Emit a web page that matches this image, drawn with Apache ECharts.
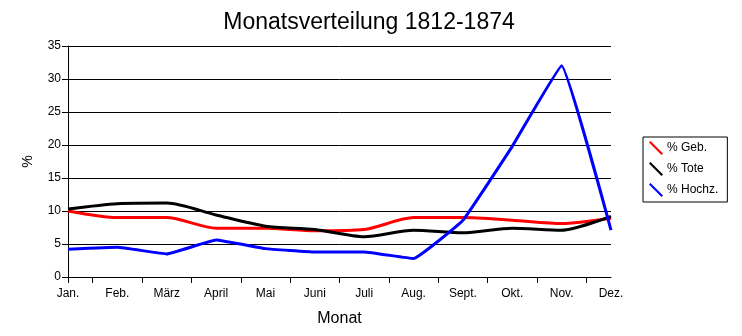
<!DOCTYPE html>
<html>
<head>
<meta charset="utf-8">
<script src="https://cdn.jsdelivr.net/npm/echarts@6/dist/echarts.min.js"></script>
<style>html,body{margin:0;padding:0;background:#fff}#c{width:742px;height:336px}</style>
</head>
<body>
<div id="c"></div>
<script>
var categories = ['Jan.', 'Feb.', 'März', 'April', 'Mai', 'Juni', 'Juli', 'Aug.', 'Sept.', 'Okt.', 'Nov.', 'Dez.'];
var geb   = [10.0, 9.0, 9.0, 7.4, 7.4, 7.0, 7.2, 9.0, 9.0, 8.6, 8.1, 8.9];
var tote  = [10.3, 11.1, 11.2, 9.4, 7.7, 7.2, 6.1, 7.1, 6.7, 7.4, 7.1, 9.2];
var hochz = [4.2, 4.5, 3.5, 5.6, 4.3, 3.8, 3.8, 2.8, 8.6, 19.8, 32.0, 7.1];
var seriesNames = ['% Geb.', '% Tote', '% Hochz.'];
var seriesColors = ['#ff0000', '#000000', '#0000ff'];

var FONT = '"Liberation Sans", Arial, sans-serif';
var halfCats = [];
for (var i = 0; i < categories.length * 2 - 1; i++) halfCats.push(String(i));

var chart = echarts.init(document.getElementById('c'), null, {renderer: 'canvas'});
var icon = 'path://M0,1.5 L1.5,0 L14,12.5 L12.5,14 Z';
chart.setOption({
  animation: false,
  backgroundColor: '#fff',
  title: {
    text: 'Monatsverteilung 1812-1874',
    left: 364, top: 6, textAlign: 'center',
    textStyle: {fontFamily: FONT, fontSize: 23, fontWeight: 'normal', color: '#000'}
  },
  legend: {
    orient: 'vertical',
    left: 643, top: 137,
    borderColor: '#000', borderWidth: 1,
    padding: [4, 9, 5, 6],
    itemGap: 7,
    itemWidth: 14, itemHeight: 14,
    textStyle: {fontFamily: FONT, fontSize: 12, color: '#000', padding: [0, 0, 0, -1]},
    data: seriesNames.map(function (n, k) { return {name: n, icon: icon, itemStyle: {color: seriesColors[k]}}; })
  },
  grid: {left: 68, right: 131, top: 46, bottom: 59, containLabel: false},
  xAxis: [{
    type: 'category', data: categories, boundaryGap: false, position: 'bottom',
    axisLine: {show: true, lineStyle: {color: '#000', width: 1}},
    axisTick: {show: false},
    axisLabel: {color: '#000', fontFamily: FONT, fontSize: 12, margin: 11, interval: 0},
    splitLine: {show: false},
    name: 'Monat', nameLocation: 'middle', nameGap: 34,
    nameTextStyle: {fontFamily: FONT, fontSize: 16, color: '#000'}
  }, {
    type: 'category', data: halfCats, boundaryGap: false, position: 'bottom',
    axisLine: {show: false},
    axisTick: {show: true, length: 6, lineStyle: {color: '#000', width: 1},
      interval: function (idx) { return idx === 0 || idx % 2 === 1; }},
    axisLabel: {show: false},
    splitLine: {show: false}
  }],
  yAxis: {
    type: 'value', min: 0, max: 35, interval: 5,
    axisLine: {show: true, lineStyle: {color: '#000', width: 1}},
    axisTick: {show: true, length: 6, lineStyle: {color: '#000'}},
    axisLabel: {color: '#000', fontFamily: FONT, fontSize: 12, margin: 7},
    splitLine: {show: true, lineStyle: {color: '#000', width: 1}},
    name: '%', nameLocation: 'middle', nameGap: 33, nameRotate: 90,
    nameTextStyle: {fontFamily: FONT, fontSize: 14, color: '#000'}
  },
  series: [
    {name: seriesNames[0], type: 'line', data: geb, smooth: 0.25, symbol: 'none', xAxisIndex: 0,
      lineStyle: {color: seriesColors[0], width: 3}, itemStyle: {color: seriesColors[0]}},
    {name: seriesNames[1], type: 'line', data: tote, smooth: 0.25, symbol: 'none', xAxisIndex: 0,
      lineStyle: {color: seriesColors[1], width: 3}, itemStyle: {color: seriesColors[1]}},
    {name: seriesNames[2], type: 'line', data: hochz, smooth: 0.08, symbol: 'none', xAxisIndex: 0,
      lineStyle: {color: seriesColors[2], width: 3}, itemStyle: {color: seriesColors[2]}}
  ]
});
</script>
</body>
</html>
